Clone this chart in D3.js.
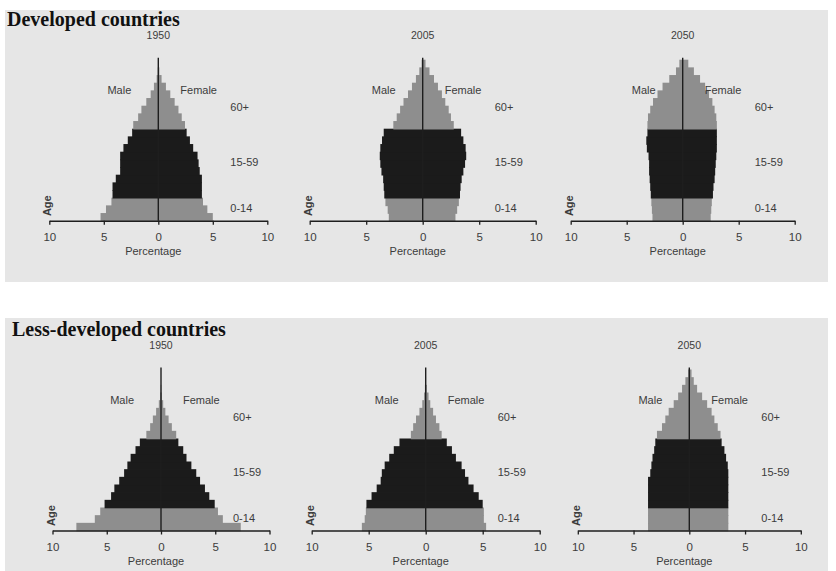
<!DOCTYPE html>
<html>
<head>
<meta charset="utf-8">
<script src="https://cdn.jsdelivr.net/npm/d3@7"></script>
<style>
	body { margin: 0; background: #fff; }
	svg text { font-family: "Liberation Sans", Arial, sans-serif; fill: #3c3c3c; }
	svg text.section { font-family: "Liberation Serif", "Times New Roman", serif; font-weight: bold; fill: #111; }
</style>
</head>
<body>
<div id="chart"></div>
<script>
'use strict';

// AGE GROUPS (5-year bands, bottom to top)
var ageGroups = ['0-4', '5-9', '10-14', '15-19', '20-24', '25-29', '30-34', '35-39', '40-44',
	'45-49', '50-54', '55-59', '60-64', '65-69', '70-74', '75-79', '80-84', '85-89', '90-94', '95-99', '100+'];
var broadGroup = ['0-14', '0-14', '0-14', '15-59', '15-59', '15-59', '15-59', '15-59', '15-59',
	'15-59', '15-59', '15-59', '60+', '60+', '60+', '60+', '60+', '60+', '60+', '60+', '60+'];
var broadLabels = ['0-14', '15-59', '60+'];
var years = ['1950', '2005', '2050'];
var tickValues = [-10, -5, 0, 5, 10];

// DEVELOPED COUNTRIES (% of population)
var devMale1950 = [5.3, 4.8, 4.3, 4.2, 4.2, 3.9, 3.5, 3.5, 3.5, 3.2, 2.8, 2.4, 2.3, 1.85, 1.55, 1.1, 0.7, 0.4, 0.15, 0.05, 0];
var devFemale1950 = [5.0, 4.5, 4.1, 4.0, 4.0, 4.0, 3.8, 3.7, 3.6, 3.2, 2.9, 2.6, 2.45, 2.15, 1.85, 1.5, 1.1, 0.7, 0.3, 0.1, 0];
var devMale2005 = [3.0, 3.1, 3.3, 3.4, 3.45, 3.5, 3.65, 3.75, 3.8, 3.75, 3.6, 3.45, 2.6, 2.3, 2.0, 1.7, 1.3, 0.95, 0.6, 0.3, 0.1];
var devFemale2005 = [2.9, 3.05, 3.2, 3.3, 3.35, 3.45, 3.6, 3.75, 3.85, 3.8, 3.6, 3.4, 2.75, 2.5, 2.3, 2.0, 1.7, 1.35, 1.0, 0.6, 0.25];
var devMale2050 = [2.7, 2.75, 2.8, 2.85, 2.9, 2.95, 3.0, 3.0, 3.05, 3.2, 3.25, 3.15, 3.15, 3.1, 2.9, 2.65, 2.25, 1.8, 1.2, 0.6, 0.3];
var devFemale2050 = [2.5, 2.55, 2.6, 2.7, 2.75, 2.85, 2.9, 2.95, 3.0, 3.05, 3.05, 3.05, 3.05, 3.0, 2.85, 2.65, 2.35, 2.0, 1.55, 1.0, 0.5];

// LESS-DEVELOPED COUNTRIES (% of population)
var lessMale1950 = [7.8, 6.1, 5.6, 5.2, 4.6, 4.3, 3.85, 3.4, 3.1, 2.8, 2.35, 1.95, 1.35, 1.0, 0.75, 0.45, 0.2, 0.08, 0.03, 0, 0];
var lessFemale1950 = [7.35, 5.7, 5.25, 4.95, 4.45, 4.05, 3.6, 3.25, 2.8, 2.35, 2.05, 1.6, 1.4, 1.0, 0.7, 0.4, 0.2, 0.08, 0.03, 0, 0];
var lessMale2005 = [5.6, 5.35, 5.25, 5.2, 4.75, 4.3, 3.95, 3.85, 3.6, 3.2, 2.8, 2.3, 1.3, 1.1, 0.85, 0.55, 0.3, 0.15, 0.07, 0.02, 0];
var lessFemale2005 = [5.3, 5.1, 5.1, 5.0, 4.65, 4.2, 3.75, 3.45, 3.15, 2.65, 2.3, 1.85, 1.4, 1.2, 0.9, 0.65, 0.4, 0.25, 0.1, 0.03, 0];
var lessMale2050 = [3.7, 3.7, 3.7, 3.7, 3.7, 3.7, 3.7, 3.5, 3.4, 3.3, 3.15, 3.05, 2.9, 2.45, 2.15, 1.85, 1.4, 1.0, 0.65, 0.35, 0.1];
var lessFemale2050 = [3.5, 3.5, 3.5, 3.5, 3.5, 3.5, 3.5, 3.5, 3.45, 3.3, 3.15, 2.9, 2.8, 2.55, 2.25, 2.0, 1.6, 1.15, 0.7, 0.4, 0.2];

var width = 836;
var height = 571;
var barColor = { '0-14': '#8e8e8e', '15-59': '#1b1b1b', '60+': '#8e8e8e' };
var labelFont = '11px';

var svg = d3.select('#chart').append('svg')
	.attr('width', width)
	.attr('height', height);

// ROWS: panel box, title, axis baseline, and the centre / half width of each pyramid
var rows = [
	{
		title: 'Developed countries', titleX: 7, titleY: 26,
		box: { x: 5, y: 10, w: 823, h: 272 },
		axisY: 220.7,
		centers: [158.3, 422.7, 682.7], halfs: [109, 113, 112],
		male: [devMale1950, devMale2005, devMale2050],
		female: [devFemale1950, devFemale2005, devFemale2050]
	},
	{
		title: 'Less-developed countries', titleX: 12, titleY: 335.5,
		box: { x: 5, y: 318, w: 823, h: 253 },
		axisY: 530.5,
		centers: [161, 425.7, 689.3], halfs: [108.5, 114, 111.5],
		male: [lessMale1950, lessMale2005, lessMale2050],
		female: [lessFemale1950, lessFemale2005, lessFemale2050]
	}
];

rows.forEach(function(row){

	svg.append('rect')
		.attr('x', row.box.x)
		.attr('y', row.box.y)
		.attr('width', row.box.w)
		.attr('height', row.box.h)
		.attr('fill', '#e6e6e6');

	svg.append('text')
		.attr('class', 'section')
		.attr('x', row.titleX)
		.attr('y', row.titleY)
		.style('font-size', '20px')
		.text(row.title);

	years.forEach(function(year, i){
		drawPyramid(row, i, year);
	});
});

function drawPyramid(row, i, year){

	var cx = row.centers[i];
	var half = row.halfs[i];
	var axisY = row.axisY;

	var xScale = d3.scaleLinear()
		.domain([-10, 10])
		.range([cx - half, cx + half]);

	var yScale = d3.scaleBand()
		.domain(ageGroups)
		.range([axisY, axisY - 161]);

	var g = svg.append('g').attr('class', 'pyramid');

	///////////////////////////////////////////
	//////////////// BARS /////////////////////
	///////////////////////////////////////////
	var maleData = row.male[i];
	var femaleData = row.female[i];

	g.selectAll('rect.male').data(maleData).enter().append('rect')
		.attr('class', 'male')
		.attr('x', function(d){ return xScale(-d); })
		.attr('y', function(d, j){ return yScale(ageGroups[j]); })
		.attr('width', function(d){ return xScale(0) - xScale(-d); })
		.attr('height', yScale.bandwidth() + 0.8)
		.attr('fill', function(d, j){ return barColor[broadGroup[j]]; });

	g.selectAll('rect.female').data(femaleData).enter().append('rect')
		.attr('class', 'female')
		.attr('x', xScale(0))
		.attr('y', function(d, j){ return yScale(ageGroups[j]); })
		.attr('width', function(d){ return xScale(d) - xScale(0); })
		.attr('height', yScale.bandwidth() + 0.8)
		.attr('fill', function(d, j){ return barColor[broadGroup[j]]; });

	// centre line
	g.append('line')
		.attr('x1', xScale(0))
		.attr('x2', xScale(0))
		.attr('y1', axisY)
		.attr('y2', axisY - 163)
		.attr('stroke', '#1e1e1e')
		.attr('stroke-width', 1.4);

	///////////////////////////////////////////
	//////////////// AXIS /////////////////////
	///////////////////////////////////////////
	var xAxis = d3.axisBottom(xScale)
		.tickValues(tickValues)
		.tickSize(4)
		.tickSizeOuter(0)
		.tickPadding(8)
		.tickFormat(function(d){ return Math.abs(d); });

	var ax = g.append('g')
		.attr('transform', 'translate(0,' + axisY + ')')
		.call(xAxis);

	ax.select('.domain').attr('stroke', '#1e1e1e').attr('stroke-width', 1.6);
	ax.selectAll('.tick line').attr('stroke', '#1e1e1e').attr('stroke-width', 1.3);
	ax.selectAll('.tick text')
		.style('font-family', '"Liberation Sans", Arial, sans-serif')
		.style('font-size', '11.5px')
		.attr('fill', '#3c3c3c');

	///////////////////////////////////////////
	//////////////// LABELS ///////////////////
	///////////////////////////////////////////
	g.append('text')
		.attr('x', cx)
		.attr('y', axisY - 182)
		.attr('text-anchor', 'middle')
		.style('font-size', '10.5px')
		.text(year);

	g.append('text')
		.attr('x', cx - 27)
		.attr('y', axisY - 127)
		.attr('text-anchor', 'end')
		.style('font-size', labelFont)
		.text('Male');

	g.append('text')
		.attr('x', cx + 22)
		.attr('y', axisY - 127)
		.style('font-size', labelFont)
		.text('Female');

	var labelY = { '60+': axisY - 110, '15-59': axisY - 55, '0-14': axisY - 9 };
	broadLabels.forEach(function(b){
		g.append('text')
			.attr('x', cx + 72)
			.attr('y', labelY[b])
			.style('font-size', labelFont)
			.text(b);
	});

	g.append('text')
		.attr('transform', 'translate(' + (cx - half + 2) + ',' + (axisY - 15) + ') rotate(-90)')
		.attr('text-anchor', 'middle')
		.style('font-size', labelFont)
		.style('font-weight', 'bold')
		.text('Age');

	g.append('text')
		.attr('x', cx - 5)
		.attr('y', axisY + 34.5)
		.attr('text-anchor', 'middle')
		.style('font-size', labelFont)
		.text('Percentage');
}
</script>
</body>
</html>
